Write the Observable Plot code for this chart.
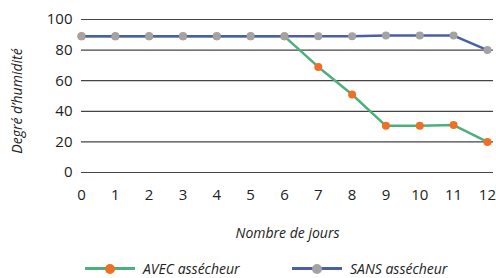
<!DOCTYPE html>
<html><head><meta charset="utf-8">
<script src="https://cdn.jsdelivr.net/npm/d3@7"></script>
<script src="https://cdn.jsdelivr.net/npm/@observablehq/plot@0.6"></script>
<style>
body{margin:0;background:#fff;font-family:"Open Sans",sans-serif;overflow:hidden;}
#legend{position:absolute;left:0;top:259px;width:496px;height:19px;font-style:italic;font-size:14px;line-height:19px;color:#222;}
.item{position:absolute;top:0;display:flex;align-items:center;height:19px;}
.sw{position:relative;width:50px;height:3px;margin-right:8px;}
.dot{position:absolute;left:20px;top:-3.5px;width:10px;height:10px;border-radius:50%;}
</style></head>
<body>
<div id="chart"></div>
<div id="legend"></div>
<script>
const jours = [0,1,2,3,4,5,6,7,8,9,10,11,12];
const avec = [89,89,89,89,89,89,89,69,51,30.5,30.5,31,20];
const sans = [89,89,89,89,89,89,89,89,89,89.5,89.5,89.5,80];
const yTicks = [0,20,40,60,80,100];
const series = [
  {name:"AVEC assécheur", values:avec, line:"#4db07c", dot:"#ef7024"},
  {name:"SANS assécheur", values:sans, line:"#4a5fa8", dot:"#a3a3a3"}
];
const data = series.flatMap(s => jours.map((j,i)=>({jour:j, v:s.values[i], s:s.name})));
const avecData = data.filter(d=>d.s===series[0].name);
const sansData = data.filter(d=>d.s===series[1].name);
const chart = Plot.plot({
  width:496, height:258,
  marginLeft:81, marginRight:3, marginTop:19, marginBottom:86,
  style:{fontFamily:"Open Sans, sans-serif", fontSize:"15px", color:"#222", background:"#fff"},
  x:{domain:[0,12.18]},
  y:{domain:[0,100]},
  marks:[
    Plot.ruleY(yTicks, {stroke:"#444", strokeWidth:1.2}),
    Plot.axisY({ticks:yTicks, tickSize:0, tickPadding:9, label:null}),
    Plot.axisX({ticks:jours, tickSize:0, tickPadding:17, label:null, tickFormat:d=>d}),
    Plot.line(avecData, {x:"jour", y:"v", stroke:series[0].line, strokeWidth:2.5}),
    Plot.dot(avecData, {x:"jour", y:"v", fill:series[0].dot, r:4}),
    Plot.line(sansData, {x:"jour", y:"v", stroke:series[1].line, strokeWidth:2.5}),
    Plot.dot(sansData, {x:"jour", y:"v", fill:series[1].dot, r:4}),
    Plot.text(["Nombre de jours"], {frameAnchor:"bottom", dy:65, fontStyle:"italic", fontSize:14, fill:"#222"}),
    Plot.text(["Degré d’humidité"], {frameAnchor:"left", textAnchor:"middle", dx:-64, dy:5, rotate:-90, fontStyle:"italic", fontSize:14, fill:"#222"})
  ]
});
document.getElementById("chart").appendChild(chart);
const lg = document.getElementById("legend");
const lefts = [85, 292];
series.forEach((s,i)=>{
  const it = document.createElement("div");
  it.className="item"; it.style.left = lefts[i]+"px";
  it.innerHTML = `<div class="sw" style="background:${s.line}"><div class="dot" style="background:${s.dot}"></div></div><span>${s.name}</span>`;
  lg.appendChild(it);
});
</script>
</body></html>
